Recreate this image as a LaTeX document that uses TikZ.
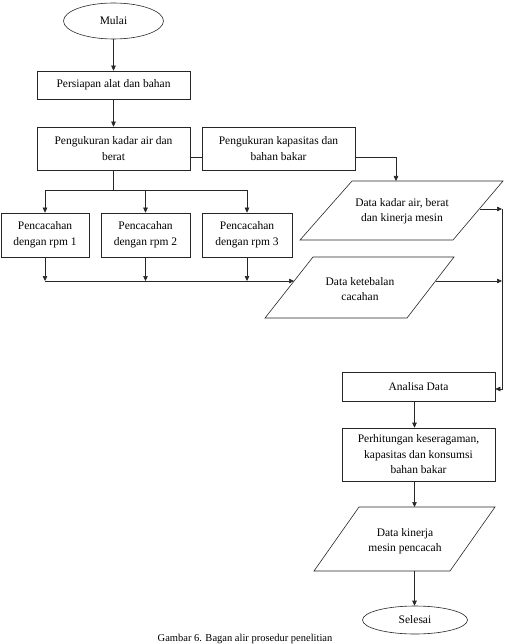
\documentclass[tikz,border=0pt]{standalone}
\usepackage{fontspec}
\setmainfont{Liberation Serif}
\usetikzlibrary{arrows.meta,shapes.geometric}
\newcommand{\fs}{\fontsize{11.5}{15.5}\selectfont}
\begin{document}
\begin{tikzpicture}[x=1pt,y=-1pt,
  line/.style={draw=black!85, line width=0.6pt},
  arr/.style={line, -{Triangle[length=5pt,width=4.5pt]}},
  box/.style={line, rectangle, inner sep=0pt, align=center, font=\fs},
  term/.style={line, ellipse, inner sep=0pt, font=\fs},
  txt/.style={align=center, font=\fs, inner sep=0pt}]
\useasboundingbox (0,0) rectangle (505,644);

% terminals and boxes
\node[term, minimum width=100pt, minimum height=36pt] (mulai) at (113.5,21) {Mulai};
\node[box, minimum width=153pt, minimum height=28pt] (persiapan) at (113.5,85) {Persiapan alat dan bahan};
\node[box, minimum width=153pt, minimum height=43pt] (kadar) at (113.5,148.5) {Pengukuran kadar air dan\\berat};
\node[box, minimum width=153pt, minimum height=43pt] (kapasitas) at (278.5,148.5) {Pengukuran kapasitas dan\\bahan bakar};
\node[box, minimum width=88pt, minimum height=44pt] (rpm1) at (45,235) {Pencacahan\\dengan rpm 1};
\node[box, minimum width=89pt, minimum height=44pt] (rpm2) at (145.5,235) {Pencacahan\\dengan rpm 2};
\node[box, minimum width=90pt, minimum height=44pt] (rpm3) at (247,235) {Pencacahan\\dengan rpm 3};
\node[box, minimum width=153pt, minimum height=29pt] (analisa) at (418.5,386.5) {Analisa Data};
\node[box, minimum width=153pt, minimum height=53pt] (perh) at (418.5,454.5) {Perhitungan keseragaman,\\kapasitas dan konsumsi\\bahan bakar};
\node[term, minimum width=105pt, minimum height=28pt] (selesai) at (415,620) {Selesai};

% parallelograms (data)
\draw[line] (300,240) -- (453,240) -- (503,181) -- (352,181) -- cycle;
\node[txt] (p1) at (402,211) {Data kadar air, berat\\dan kinerja mesin};
\draw[line] (265,318) -- (407,318) -- (454,257) -- (313,257) -- cycle;
\node[txt] (p2) at (360,289) {Data ketebalan\\cacahan};
\draw[line] (314,571) -- (450,571) -- (495,507) -- (359,507) -- cycle;
\node[txt] (p3) at (405,541) {Data kinerja\\mesin pencacah};

% connection points on the parallelograms
\coordinate (p1top) at (396,181);
\coordinate (p1r) at (479.5,209);
\coordinate (p2l) at (294,281);
\coordinate (p2r) at (435.5,281);
\coordinate (p3top) at (414.5,507);
\coordinate (p3bot) at (414.5,571);

% caption
\node[txt, font=\fontsize{10.5}{12}\selectfont, anchor=south] (cap) at (245,643.5) {Gambar 6. Bagan alir prosedur penelitian};

% connectors
\draw[arr] (mulai.south) -- (mulai.south |- persiapan.north);
\draw[arr] (persiapan.south) -- (kadar.north);

\path (kadar.east) ++(0,8.5) coordinate (k1);
\draw[line] (k1) -- (k1 -| kapasitas.west);
\path (kapasitas.east) ++(0,8.5) coordinate (k2);
\draw[arr] (k2) -| (p1top);

\draw[line] (kadar.south) -- ++(0,20) coordinate (sp);
\draw[line] (rpm1.north |- sp) -- (rpm3.north |- sp);
\foreach \n in {rpm1,rpm2,rpm3} {
  \draw[arr] (\n.north |- sp) -- (\n.north);
  \draw[arr] (\n.south) -- (\n.south |- p2l);
}
\draw[arr] (rpm1.south |- p2l) -- (p2l);

\coordinate (rv) at (502,209);
\coordinate (rb) at (502,389);
\draw[arr] (p1r) -- (rv);
\draw[arr] (p2r) -- (p2r -| rv);
\draw[arr] (rv) -- (rb) -- (rb -| analisa.east);

\draw[arr] ([xshift=-4pt]analisa.south) -- ([xshift=-4pt]perh.north);
\draw[arr] ([xshift=-4pt]perh.south) -- (p3top);
\draw[arr] (p3bot) -- (p3bot |- selesai.north);
\end{tikzpicture}
\end{document}
